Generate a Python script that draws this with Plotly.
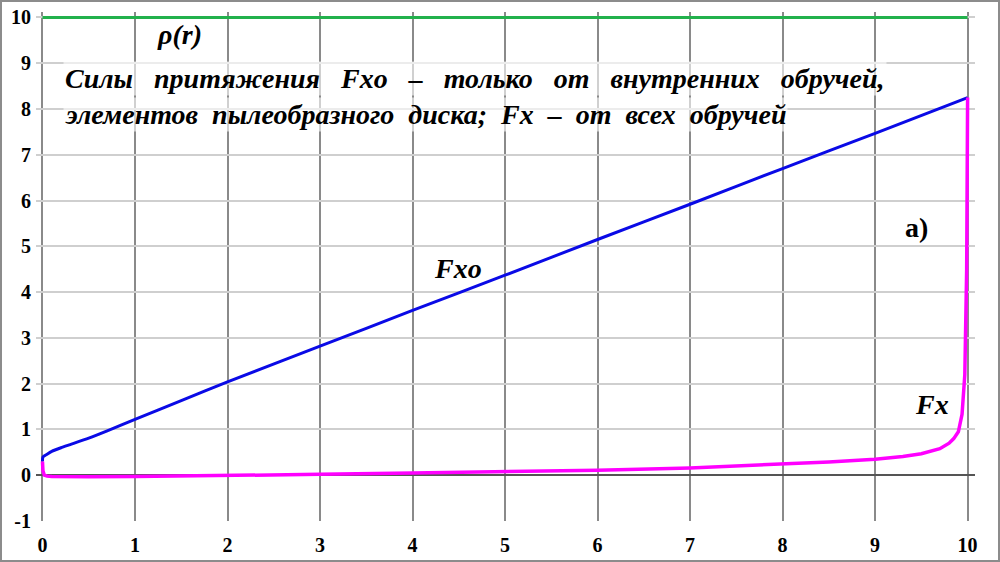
import plotly.graph_objects as go

# ---- data ----
rho_x = [0, 10]
rho_y = [10, 10]

fxo_x = [0, 0.005, 0.05, 0.1, 0.2, 0.3, 0.5, 0.7, 1, 1.5, 2, 3, 4, 5, 6, 7, 8, 9, 10]
fxo_y = [0.3, 0.4, 0.46, 0.52, 0.6, 0.67, 0.81, 0.97, 1.22, 1.63, 2.04, 2.82, 3.6, 4.37,
         5.15, 5.92, 6.7, 7.47, 8.25]

fx_x = [0, 0.005, 0.02, 0.05, 0.1, 0.2, 0.5, 1, 2, 3, 4, 5, 6, 7, 8, 8.5, 9, 9.3, 9.5,
        9.7, 9.8, 9.85, 9.9, 9.94, 9.97, 9.99, 10]
fx_y = [0.3, 0.1, 0.0, -0.02, -0.03, -0.035, -0.035, -0.03, -0.01, 0.02, 0.05, 0.08,
        0.11, 0.16, 0.24, 0.29, 0.35, 0.41, 0.47, 0.58, 0.7, 0.8, 0.95, 1.33, 2.2, 4.5, 8.25]

x_ticks = list(range(0, 11))
y_ticks = list(range(-1, 11))

W, H = 1000, 562
ML, MR, MT, MB = 36, 25, 12, 41
SERIF = "Liberation Serif"

fig = go.Figure()
fig.add_trace(go.Scatter(x=rho_x, y=rho_y, mode="lines",
                         line=dict(color="#22b14c", width=3), hoverinfo="skip"))
fig.add_trace(go.Scatter(x=fxo_x, y=fxo_y, mode="lines",
                         line=dict(color="#0a0ae6", width=3, shape="spline", smoothing=0.6),
                         hoverinfo="skip"))
fig.add_trace(go.Scatter(x=fx_x, y=fx_y, mode="lines",
                         line=dict(color="#ff00ff", width=3.5), hoverinfo="skip"))

tickfont = dict(family=SERIF, size=20, color="black", weight="bold")
fig.update_xaxes(range=[-0.07, 10.08], tickvals=x_ticks, ticktext=[str(v) for v in x_ticks],
                 showgrid=True, gridcolor="#8a8a8a", gridwidth=2, automargin=False,
                 zeroline=False, showline=False, tickfont=tickfont, ticks="", ticklen=0,
                 ticklabelstandoff=10)
fig.update_yaxes(range=[-1, 10.12], tickvals=y_ticks, ticktext=[str(v) for v in y_ticks],
                 showgrid=True, gridcolor="#cfcfcf", gridwidth=1.5, automargin=False,
                 zeroline=True, zerolinecolor="#555555", zerolinewidth=1.5,
                 showline=False, tickfont=tickfont, ticks="", ticklen=0,
                 ticklabelstandoff=4)

NB = "\u00a0"
line1 = (NB * 3).join(["Силы", "притяжения", "Fxo", "–", "только", "от", "внутренних", "обручей,"])
line2 = (NB * 2).join(["элементов", "пылеобразного", "диска;", "Fx", "–", "от", "всех", "обручей"])

tfont = dict(family=SERIF, size=28, color="black")
ann = [
    dict(x=1.48, y=9.62, text="<b><i>ρ(r)</i></b>", showarrow=False, font=tfont),
    dict(x=0.227, y=8.67, text="<b><i>" + line1 + "</i></b>", showarrow=False, font=tfont,
         xanchor="left", bgcolor="rgba(255,255,255,0.6)"),
    dict(x=0.227, y=7.88, text="<b><i>" + line2 + "</i></b>", showarrow=False, font=tfont,
         xanchor="left", bgcolor="rgba(255,255,255,0.6)"),
    dict(x=4.49, y=4.52, text="<b><i>Fxo</i></b>", showarrow=False, font=tfont),
    dict(x=9.61, y=1.55, text="<b><i>Fx</i></b>", showarrow=False, font=tfont),
    dict(x=9.45, y=5.42, text="<b>а)</b>", showarrow=False, font=tfont),
]

pw = W - ML - MR
ph = H - MT - MB
border = dict(type="rect", xref="paper", yref="paper",
              x0=(1 - ML) / pw, x1=1 + (MR - 1) / pw,
              y0=-(MB - 1) / ph, y1=1 + (MT - 1) / ph,
              line=dict(color="#8c8c8c", width=2), fillcolor="rgba(0,0,0,0)")

fig.update_layout(width=W, height=H, margin=dict(l=ML, r=MR, t=MT, b=MB),
                  paper_bgcolor="white", plot_bgcolor="white", showlegend=False,
                  font=dict(family=SERIF), annotations=ann, shapes=[border])

fig.write_html("out.html", config={"displayModeBar": False},
               post_script="document.body.style.margin='0';")
